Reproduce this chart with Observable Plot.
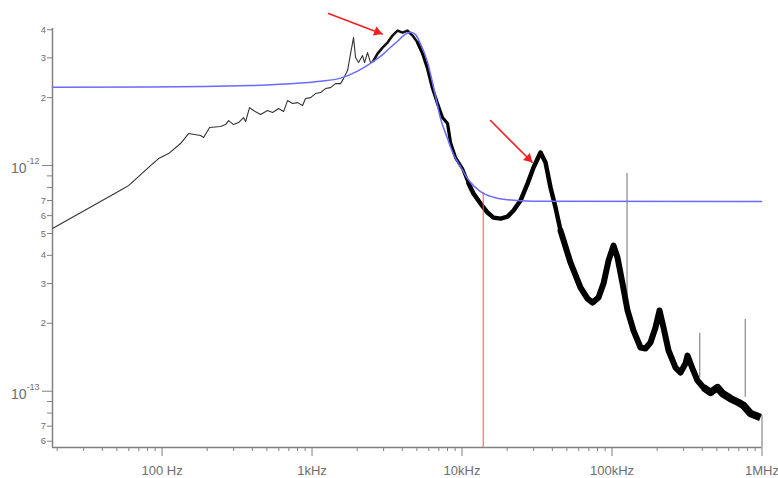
<!DOCTYPE html>
<html>
<head>
<meta charset="utf-8">
<script src="https://cdn.jsdelivr.net/npm/d3@7"></script>
<script src="https://cdn.jsdelivr.net/npm/@observablehq/plot@0.6"></script>
<style>
  html, body { margin: 0; padding: 0; background: #ffffff; }
  #chart { width: 778px; height: 478px; }
</style>
</head>
<body>
<div id="chart"></div>
<script>
// ---------- data ----------
// measured noise spectrum (frequency in Hz, spectral density)
const measFreq = [18.6, 55.4, 59.8, 83.8, 94.8, 110.5, 132.8, 150.2, 180.6, 189.1, 207.4, 245.5, 265.1, 277.6, 299.7, 323.6, 349.5, 360.4, 383.1, 407.4, 453.6, 505.1, 545.5, 598.1, 645.7, 686.5, 741.3, 800.4, 864.5, 905.2, 977.2, 1055, 1139, 1230, 1328, 1434, 1549, 1622, 1725, 1806, 1891, 1950, 2042, 2171, 2239, 2344, 2455, 2570, 2734, 2951, 3187, 3441, 3715, 4012, 4332, 4677, 5051, 5454, 5888, 6358, 6866, 7413, 8005, 8382, 9050, 10077, 11050, 11930, 13286, 14791, 16218, 18057, 20108, 22045, 24547, 27334, 29974, 33376, 36043, 38905, 42020, 45354, 52800, 61660, 68660, 74130, 81280, 87760, 94770, 102330, 108800, 117490, 126880, 139120, 154880, 167230, 180590, 194980, 207400, 220400, 238100, 265100, 286200, 309000, 318700, 344100, 371500, 407400, 453600, 505100, 545500, 616600, 697200, 752700, 838200, 977200];
const measPsd = [5.26e-13, 7.91e-13, 8.15e-13, 1.00e-12, 1.074e-12, 1.130e-12, 1.252e-12, 1.386e-12, 1.358e-12, 1.331e-12, 1.474e-12, 1.489e-12, 1.519e-12, 1.583e-12, 1.519e-12, 1.551e-12, 1.632e-12, 1.567e-12, 1.807e-12, 1.753e-12, 1.683e-12, 1.753e-12, 1.718e-12, 1.789e-12, 1.735e-12, 1.941e-12, 1.883e-12, 1.901e-12, 1.845e-12, 1.981e-12, 2.001e-12, 2.085e-12, 2.106e-12, 2.194e-12, 2.216e-12, 2.308e-12, 2.308e-12, 2.429e-12, 2.636e-12, 3.135e-12, 3.690e-12, 3.010e-12, 2.860e-12, 3.072e-12, 2.860e-12, 3.167e-12, 2.860e-12, 2.919e-12, 3.135e-12, 3.333e-12, 3.508e-12, 3.767e-12, 3.964e-12, 3.884e-12, 3.964e-12, 3.767e-12, 3.508e-12, 3.135e-12, 2.691e-12, 2.194e-12, 1.883e-12, 1.632e-12, 1.535e-12, 1.264e-12, 1.085e-12, 9.70e-13, 8.32e-13, 7.51e-13, 6.79e-13, 6.19e-13, 5.88e-13, 5.82e-13, 5.94e-13, 6.32e-13, 7.00e-13, 8.32e-13, 9.80e-13, 1.142e-12, 1.031e-12, 7.99e-13, 6.51e-13, 5.15e-13, 3.72e-13, 2.88e-13, 2.57e-13, 2.47e-13, 2.60e-13, 3.00e-13, 3.79e-13, 4.42e-13, 3.91e-13, 3.00e-13, 2.28e-13, 1.857e-13, 1.562e-13, 1.546e-13, 1.643e-13, 1.915e-13, 2.28e-13, 1.915e-13, 1.515e-13, 1.273e-13, 1.210e-13, 1.327e-13, 1.439e-13, 1.260e-13, 1.115e-13, 1.038e-13, 9.87e-14, 1.038e-13, 9.77e-14, 9.28e-14, 8.91e-14, 8.64e-14, 7.96e-14, 7.64e-14];

// fitted model (blue)
const fitFreq = [18.6, 83.8, 389, 838, 1139, 1549, 2011, 2570, 2997, 3337, 3715, 4074, 4536, 4898, 5287, 5888, 6457, 7190, 8005, 8777, 9772, 10880, 13286, 16218, 20108, 29974, 992400];
const fitPsd = [2.223e-12, 2.227e-12, 2.262e-12, 2.320e-12, 2.363e-12, 2.441e-12, 2.623e-12, 2.898e-12, 3.126e-12, 3.344e-12, 3.554e-12, 3.767e-12, 3.896e-12, 3.805e-12, 3.461e-12, 2.869e-12, 2.223e-12, 1.615e-12, 1.317e-12, 1.119e-12, 9.90e-13, 8.76e-13, 7.67e-13, 7.24e-13, 7.05e-13, 6.95e-13, 6.93e-13];

// narrow interference lines (gray spikes)
const spikeFreq = [125900, 384900, 772700, 1000000];
const spikeLow  = [2.4e-13, 1.15e-13, 9.4e-14, 5.63e-14];
const spikeHigh = [9.22e-13, 1.807e-13, 2.078e-13, 7.8e-14];

// red marker line
const markerFreq = [13844];
const markerTop = [7.59e-13];

// red arrows (start -> end)
const arrowFromFreq = [1288, 15488];
const arrowFromPsd  = [4.716e-12, 1.583e-12];
const arrowToFreq   = [2938, 29376];
const arrowToPsd    = [3.833e-12, 1.034e-12];

// axis ticks and labels
const xMajorTicks = [100, 1000, 10000, 100000, 1000000];
const xMajorLabels = ["100 Hz", "1kHz", "10kHz", "100kHz", "1MHz"];
const yMajorTicks = [1e-12, 1e-13];
const yMajorExponents = ["-12", "-13"];
const yMinorTicks = [6e-14, 7e-14, 8e-14, 9e-14, 2e-13, 3e-13, 4e-13, 5e-13, 6e-13, 7e-13, 8e-13, 9e-13, 2e-12, 3e-12, 4e-12];

// ---------- build ----------
const xDomain = [18.6, 1000000];
const yDomain = [5.63e-14, 4.05e-12];

const meas = measFreq.map((f, i) => ({f, v: measPsd[i]}));
const fit = fitFreq.map((f, i) => ({f, v: fitPsd[i]}));
const seg = (lo, hi) => meas.filter(d => d.f >= lo && d.f <= hi);

const xMinor = [];
for (let dec = 10; dec < 1e6; dec *= 10) {
  for (let k = 2; k <= 9; k++) {
    const t = k * dec;
    if (t >= xDomain[0] && t <= xDomain[1]) xMinor.push(t);
  }
}

const gray = "#808080";
const textGray = "#6e6e6e";

const lineOpts = (w, c, cap = "round") => ({x: "f", y: "v", stroke: c, strokeWidth: w, strokeLinejoin: "round", strokeLinecap: cap});

const chart = Plot.plot({
  width: 778,
  height: 478,
  marginLeft: 52,
  marginRight: 16.5,
  marginTop: 28,
  marginBottom: 31,
  style: {fontFamily: "'Liberation Sans', Arial, sans-serif", background: "transparent", overflow: "visible"},
  x: {type: "log", domain: xDomain, axis: null, label: null},
  y: {type: "log", domain: yDomain, axis: null, label: null},
  marks: [
    // axes
    Plot.axisX(xMinor, {tickSize: 4, tickFormat: () => "", stroke: gray, label: null}),
    Plot.axisX(xMajorTicks, {tickSize: 9, tickPadding: 9, tickFormat: d => xMajorLabels[xMajorTicks.indexOf(d)], stroke: gray, fill: textGray, fontSize: 13, label: null}),
    Plot.axisY(yMinorTicks, {tickSize: 5, tickPadding: 1.5, tickFormat: d => String(Math.round(d / Math.pow(10, Math.floor(Math.log10(d) + 1e-9)))), stroke: gray, fill: textGray, fontSize: 9.5, label: null}),
    Plot.axisY(yMajorTicks, {tickSize: 10, tickFormat: () => "", stroke: gray, label: null}),
    Plot.text(yMajorTicks, {x: xDomain[0], y: d => d, text: () => "10", textAnchor: "end", dx: -26, dy: 3, fontSize: 14, fill: textGray}),
    Plot.text(yMajorTicks, {x: xDomain[0], y: d => d, text: (d, i) => yMajorExponents[i], textAnchor: "start", dx: -26, dy: -4, fontSize: 9, fill: textGray}),
    Plot.ruleX([xDomain[0]], {stroke: gray, strokeWidth: 1.5}),
    Plot.ruleY([yDomain[0]], {stroke: gray, strokeWidth: 1.5}),

    // gray spikes
    Plot.ruleX(spikeFreq.map((f, i) => i), {x: i => spikeFreq[i], y1: i => spikeLow[i], y2: i => spikeHigh[i], stroke: "#707070", strokeWidth: 1}),

    // measured spectrum (noisy band drawn as widening line)
    Plot.line(seg(0, 2600), lineOpts(1.1, "#333", "butt")),
    Plot.line(seg(2500, 5100), lineOpts(2.6, "#111")),
    Plot.line(seg(5000, 12000), lineOpts(3.2, "#000")),
    Plot.line(seg(11000, 50000), lineOpts(4.5, "#000")),
    Plot.line(seg(45000, 420000), lineOpts(6, "#000")),
    Plot.line(seg(400000, 1e6), lineOpts(7.5, "#000", "butt")),

    // fit
    Plot.line(fit, {x: "f", y: "v", stroke: "#6a6aff", strokeWidth: 1.5, curve: "monotone-x"}),

    // red marker
    Plot.ruleX(markerFreq.map((f, i) => i), {x: i => markerFreq[i], y1: yDomain[0], y2: i => markerTop[i], stroke: "#ff5050", strokeWidth: 1}),

    // red arrows
    Plot.arrow([0, 1], {x1: i => arrowFromFreq[i], y1: i => arrowFromPsd[i], x2: i => arrowToFreq[i], y2: i => arrowToPsd[i], stroke: "#f02020", strokeWidth: 1.6, headLength: 0}),
    Plot.dot([0], {x: i => arrowToFreq[i], y: i => arrowToPsd[i], symbol: "triangle", r: 3.6, rotate: 110.7, fill: "#f02020", dx: -5, dy: -1.9}),
    Plot.dot([1], {x: i => arrowToFreq[i], y: i => arrowToPsd[i], symbol: "triangle", r: 3.6, rotate: 135, fill: "#f02020", dx: -3.8, dy: -3.8})
  ]
});
document.getElementById("chart").appendChild(chart);
</script>
</body>
</html>
